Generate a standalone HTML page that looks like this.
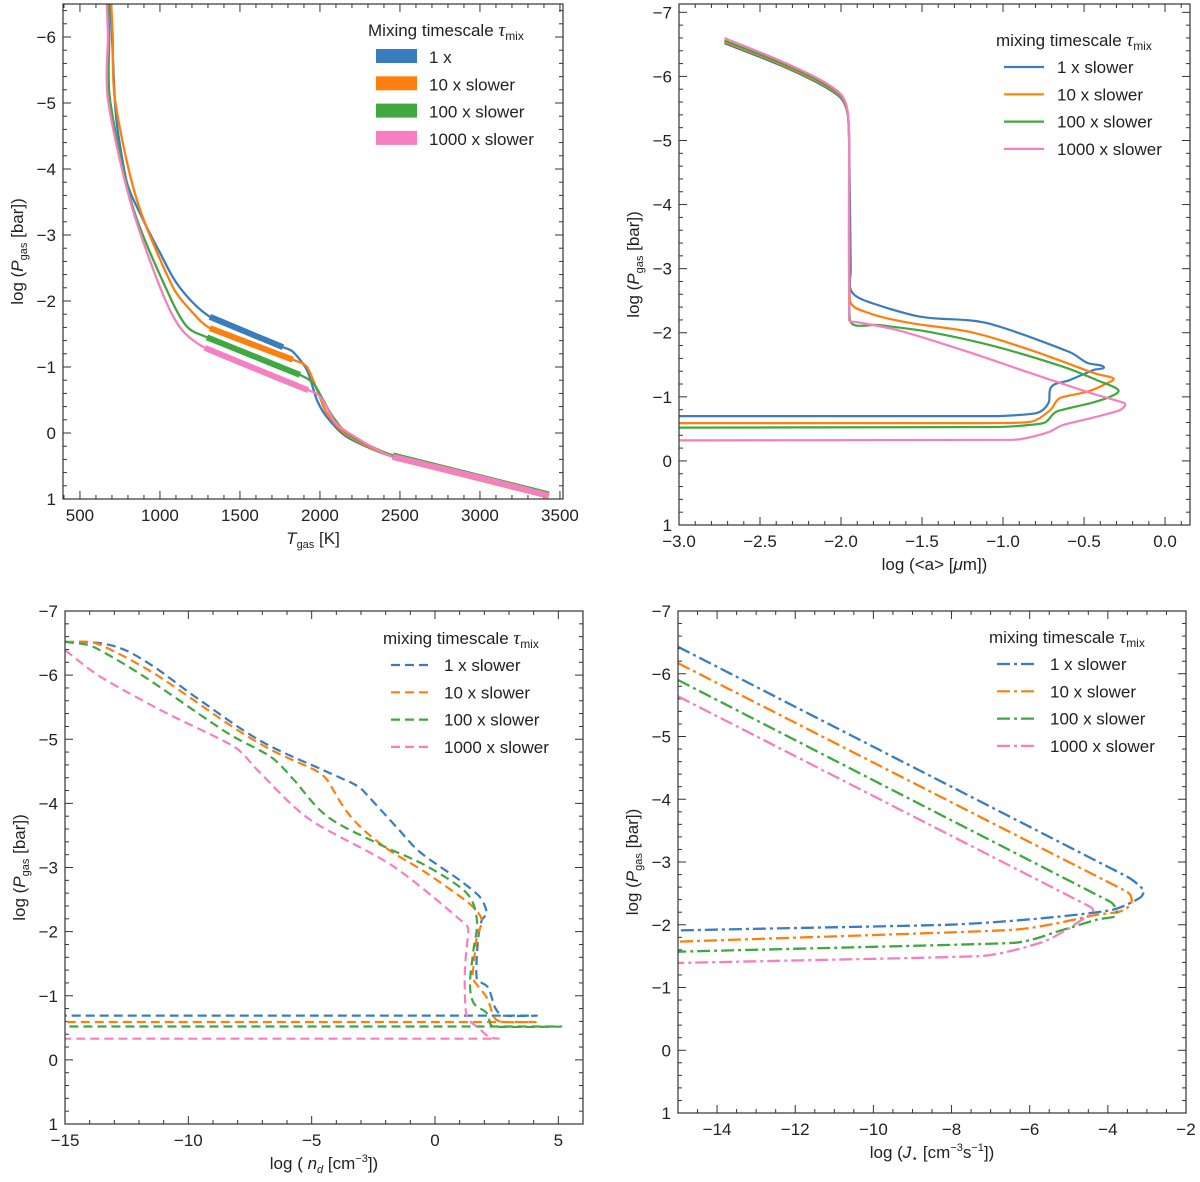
<!DOCTYPE html>
<html><head><meta charset="utf-8">
<style>
html,body{margin:0;padding:0;background:#fff;}
svg{display:block;font-family:"Liberation Sans","DejaVu Sans",sans-serif;}
</style></head>
<body>
<svg id="fig" width="1200" height="1182" viewBox="0 0 1200 1182" xmlns="http://www.w3.org/2000/svg"></svg>
<script>
const colors=['#3a7dbf','#ff7f0e','#3fa83f','#f57fc0'];
const seriesNames=['1 x slower','10 x slower','100 x slower','1000 x slower'];
const legend1Names=['1 x','10 x slower','100 x slower','1000 x slower'];

// Panel 1: T_gas vs log P
const p1T=[
 [687,700,719,738,794,875,1000,1125,1312,1550,1769,1831,1919,1981,2044,2169,2456,3000,3430],
 [695,705,719,856,1081,1206,1312,1570,1831,1919,1990,2044,2169,2456,3000,3430],
 [675,683,688,831,1063,1169,1294,1580,1875,1956,2020,2080,2180,2456,3000,3430],
 [668,675,675,812,1000,1125,1281,1600,1925,1988,2040,2100,2200,2456,3000,3430]];
const p1P=[
 [-6.5,-6,-5,-4.55,-3.79,-3.33,-2.73,-2.2,-1.76,-1.52,-1.30,-1.23,-0.95,-0.5,-0.24,0.06,0.36,0.68,0.95],
 [-6.5,-6,-5.05,-3.53,-2.21,-1.82,-1.59,-1.35,-1.11,-1.0,-0.6,-0.3,0.03,0.36,0.69,0.95],
 [-6.5,-6,-5.05,-3.42,-2.06,-1.61,-1.45,-1.17,-0.88,-0.76,-0.5,-0.25,0.02,0.34,0.67,0.93],
 [-6.5,-6,-5.05,-3.53,-2.21,-1.6,-1.29,-0.97,-0.65,-0.58,-0.4,-0.15,0.03,0.36,0.68,0.95]];
const p1ThickLo=[1312,1312,1294,1281];
const p1ThickHi=[1769,1831,1875,1925];
const p1TailLo=2456;

// Panel 2: log <a> vs log P
const p2A=[
 [-2.72,-2.38,-2.13,-2.0,-1.96,-1.95,-1.94,-1.94,-1.86,-1.51,-1.10,-0.59,-0.48,-0.38,-0.44,-0.59,-0.70,-0.72,-0.79,-1.04,-3],
 [-2.72,-2.38,-2.13,-2.0,-1.96,-1.95,-1.945,-1.82,-1.57,-1.20,-0.83,-0.44,-0.32,-0.36,-0.48,-0.65,-0.71,-0.83,-1.14,-3],
 [-2.72,-2.38,-2.13,-2.0,-1.96,-1.95,-1.945,-1.76,-1.45,-1.04,-0.63,-0.42,-0.29,-0.34,-0.46,-0.67,-0.75,-1.04,-3],
 [-2.72,-2.38,-2.13,-2.0,-1.96,-1.95,-1.95,-1.91,-1.65,-1.25,-0.83,-0.46,-0.25,-0.28,-0.42,-0.63,-0.73,-0.94,-3]];
const p2P=[
 [-6.52,-6.18,-5.88,-5.66,-5.42,-5.0,-3.0,-2.67,-2.51,-2.25,-2.15,-1.70,-1.53,-1.47,-1.42,-1.26,-1.16,-0.90,-0.75,-0.70,-0.70],
 [-6.54,-6.2,-5.9,-5.68,-5.44,-5.0,-2.51,-2.30,-2.15,-2.01,-1.73,-1.37,-1.29,-1.21,-1.08,-0.98,-0.79,-0.61,-0.59,-0.59],
 [-6.56,-6.22,-5.92,-5.7,-5.45,-5.0,-2.2,-2.12,-2.01,-1.78,-1.47,-1.26,-1.11,-1.0,-0.90,-0.77,-0.59,-0.53,-0.52],
 [-6.6,-6.25,-5.95,-5.72,-5.47,-5.0,-2.2,-2.17,-2.04,-1.73,-1.37,-1.06,-0.90,-0.79,-0.69,-0.56,-0.44,-0.33,-0.32]];

// Panel 3: log n_d vs log P
const p3N=[
 [-15,-13.58,-12.5,-11.28,-9.53,-7.1,-4.66,-3.33,-2.92,-1.56,-0.61,1.01,1.82,2.09,1.89,1.74,1.69,2.15,2.43,2.76,4.05,-15],
 [-15,-13.7,-11.4,-8.43,-6.67,-4.92,-4.38,-3.43,-2.08,-0.33,1.29,1.76,1.9,1.7,1.56,1.56,2.1,2.37,2.71,4.0,-15],
 [-15,-13.85,-11.8,-8.43,-6.67,-5.73,-4.38,-2.35,-0.33,1.29,1.7,1.56,1.42,1.56,2.1,2.37,4.96,-15],
 [-15,-13.58,-11.15,-8.17,-7.1,-5.08,-1.7,1.0,1.35,1.21,1.28,1.82,2.22,2.56,-15]];
const p3P=[
 [-6.52,-6.5,-6.38,-6.1,-5.61,-4.98,-4.54,-4.31,-4.2,-3.63,-3.24,-2.8,-2.54,-2.3,-2.17,-1.86,-1.28,-1.13,-0.82,-0.69,-0.69,-0.69],
 [-6.52,-6.49,-6.03,-5.25,-4.84,-4.53,-4.37,-3.8,-3.33,-2.91,-2.47,-2.29,-2.14,-1.93,-1.46,-1.25,-0.97,-0.68,-0.59,-0.59,-0.59],
 [-6.52,-6.44,-5.98,-5.1,-4.73,-4.37,-3.8,-3.38,-3.02,-2.6,-2.18,-1.72,-1.2,-0.89,-0.73,-0.52,-0.52,-0.52],
 [-6.39,-5.98,-5.46,-4.89,-4.48,-3.75,-3.02,-2.19,-2.04,-1.37,-0.69,-0.48,-0.35,-0.33,-0.33]];

// Panel 4: log J* vs log P
const p4J=[
 [-15,-3.52,-3.1,-3.18,-3.87,-5.57,-8.13,-15],
 [-15,-3.52,-3.4,-3.7,-4.29,-6.43,-15],
 [-15,-3.95,-3.78,-3.82,-4.29,-5.15,-6.43,-15],
 [-15,-4.46,-4.38,-4.55,-5.06,-5.74,-7.28,-15]];
const p4P=[
 [-6.43,-2.77,-2.56,-2.43,-2.24,-2.11,-2.0,-1.91],
 [-6.17,-2.53,-2.35,-2.21,-2.16,-1.92,-1.73],
 [-5.9,-2.37,-2.24,-2.13,-2.08,-1.92,-1.71,-1.57],
 [-5.64,-2.29,-2.21,-2.13,-1.92,-1.71,-1.5,-1.39]];

const ticks1X=[500,1000,1500,2000,2500,3000,3500];
const ticks1Y=[-6,-5,-4,-3,-2,-1,0,1];
const ticks2X=[-3.0,-2.5,-2.0,-1.5,-1.0,-0.5,0.0];
const ticksPY=[-7,-6,-5,-4,-3,-2,-1,0,1];
const ticks3X=[-15,-10,-5,0,5];
const ticks4X=[-14,-12,-10,-8,-6,-4,-2];

const NS='http://www.w3.org/2000/svg';
const svg=document.getElementById('fig');
function mk(tag,attrs,parent){const e=document.createElementNS(NS,tag);for(const k in attrs)e.setAttribute(k,attrs[k]);(parent||svg).appendChild(e);return e;}
function fmt(v,dec){let s=v.toFixed(dec);if(v<0)s='\u2212'+s.slice(1);return s;}

function makeAxes(cfg){
  const g=mk('g',{});
  
  
  const sx=v=>cfg.L+(v-cfg.x0)/(cfg.x1-cfg.x0)*(cfg.R-cfg.L);
  const sy=v=>cfg.T+(v-cfg.y0)/(cfg.y1-cfg.y0)*(cfg.B-cfg.T);
  const tg=mk('g',{stroke:'#333','stroke-width':1},g);
  for(let v=Math.ceil(cfg.x0/cfg.xm-1e-9)*cfg.xm;v<=cfg.x1+1e-9;v+=cfg.xm){
    const maj=Math.abs(v/cfg.xM-Math.round(v/cfg.xM))<1e-6;const len=maj?8:4;const x=sx(v);
    let t=mk('line',{x1:x,x2:x,y1:cfg.B,y2:cfg.B-len},tg);
    
    
    t=mk('line',{x1:x,x2:x,y1:cfg.T,y2:cfg.T+len},tg);
    
    
  }
  for(let v=Math.ceil(cfg.y0/cfg.ym-1e-9)*cfg.ym;v<=cfg.y1+1e-9;v+=cfg.ym){
    const maj=Math.abs(v-Math.round(v))<1e-6;const len=maj?8:4;const y=sy(v);
    let t=mk('line',{x1:cfg.L,x2:cfg.L+len,y1:y,y2:y},tg);
    
    
    t=mk('line',{x1:cfg.R,x2:cfg.R-len,y1:y,y2:y},tg);
    
    
  }
  cfg.xt.forEach(v=>{
    const t=mk('text',{x:sx(v),y:cfg.B+22,'text-anchor':'middle','font-size':17,fill:'#222'},g);
    t.textContent=cfg.xdec===0&&v>=0?String(v):fmt(v,cfg.xdec);
    
    
  });
  cfg.yt.forEach(v=>{
    if(v<cfg.y0-1e-9)return;
    const t=mk('text',{x:cfg.L-7,y:sy(v)+6,'text-anchor':'end','font-size':17,fill:'#222'},g);
    t.textContent=fmt(v,0);
    
    
  });
  const yl=mk('text',{x:0,y:0,transform:`translate(${cfg.L-40},${(cfg.T+cfg.B)/2}) rotate(-90)`,'text-anchor':'middle','font-size':17,fill:'#222'},g);
  yl.innerHTML='log (<tspan font-style="italic">P</tspan><tspan font-size="11" dy="4">gas</tspan><tspan dy="-4"> [bar])</tspan>';
  
  
  const xl=mk('text',{x:(cfg.L+cfg.R)/2,y:cfg.B+cfg.xlOff,'text-anchor':'middle','font-size':17,fill:'#222'},g);
  xl.innerHTML=cfg.xlabel;
  
  
  const clip='clip-'+cfg.name;
  const cp=mk('clipPath',{id:clip},g);
  mk('rect',{x:cfg.L,y:cfg.T,width:cfg.R-cfg.L,height:cfg.B-cfg.T},cp);
  const plot=mk('g',{'clip-path':`url(#${clip})`},g);
  
  
  return {g,plot,sx,sy,cfg};
}
function frame(ax){
  const c=ax.cfg;
  const f=mk('rect',{x:c.L,y:c.T,width:c.R-c.L,height:c.B-c.T,fill:'none',stroke:'#333','stroke-width':1.2},ax.g);
  
  
}
// smooth path with length-limited tangents (no overshoot at reversals)
function pathD(ax,xs,ys){
  const p=xs.map((x,i)=>[ax.sx(x),ax.sy(ys[i])]);
  const n=p.length;
  const dist=(a,b)=>Math.hypot(b[0]-a[0],b[1]-a[1]);
  const dir=p.map((q,i)=>{
    const a=p[Math.max(0,i-1)],b=p[Math.min(n-1,i+1)];
    const dx=b[0]-a[0],dy=b[1]-a[1],l=Math.hypot(dx,dy)||1;
    return [dx/l,dy/l];
  });
  let d='M'+p[0][0].toFixed(1)+','+p[0][1].toFixed(1);
  for(let i=0;i<n-1;i++){
    const a=p[i],b=p[i+1];
    const lab=dist(a,b);
    const lprev=i>0?dist(p[i-1],a):lab;
    const lnext=i+2<n?dist(b,p[i+2]):lab;
    const m1=Math.min(lab,lprev)*0.35,m2=Math.min(lab,lnext)*0.35;
    const c1=[a[0]+dir[i][0]*m1,a[1]+dir[i][1]*m1];
    const c2=[b[0]-dir[i+1][0]*m2,b[1]-dir[i+1][1]*m2];
    d+='C'+c1[0].toFixed(1)+','+c1[1].toFixed(1)+' '+c2[0].toFixed(1)+','+c2[1].toFixed(1)+' '+b[0].toFixed(1)+','+b[1].toFixed(1);
  }
  return d;
}

function legend(ax,x,yTitle,names,style,dash){
  const lg=mk('g',{},ax.g);
  
  
  const t=mk('text',{x:x,y:yTitle,'font-size':17,fill:'#222'},lg);
  t.innerHTML=(style==='patch'?'Mixing':'mixing')+' timescale <tspan font-style="italic" font-family="Liberation Serif, serif" font-size="19">τ</tspan><tspan font-size="12" dy="4">mix</tspan>';
  
  
  names.forEach((n,i)=>{
    const y=yTitle+26+i*27.3;
    const hx=x+8;
    let h;
    if(style==='patch'){h=mk('rect',{x:hx,y:y-13,width:41,height:14,fill:colors[i]},lg);}
    else{h=mk('line',{x1:hx,x2:hx+40,y1:y-5,y2:y-5,stroke:colors[i],'stroke-width':2.2,'stroke-dasharray':dash||'none'},lg);}
    
    
    const lt=mk('text',{x:hx+53,y:y+1,'font-size':17,fill:'#222'},lg);
    lt.textContent=n;
    
    
  });
}

// ---- Panel 1
const a1=makeAxes({name:'panel-temperature',L:63,R:563,T:4,B:499,x0:394,x1:3519,y0:-6.5,y1:1,xm:100,xM:500,ym:0.2,xt:ticks1X,yt:ticks1Y,xdec:0,xlOff:45,
 xlabel:'<tspan font-style="italic">T</tspan><tspan font-size="11" dy="4">gas</tspan><tspan dy="-4"> [K]</tspan>'});
p1T.forEach((xs,i)=>{
  const p=mk('path',{d:pathD(a1,xs,p1P[i]),fill:'none',stroke:colors[i],'stroke-width':2.3,'stroke-linejoin':'round'},a1.plot);
  
  
});
p1T.forEach((xs,i)=>{
  const ix=[],iy=[];
  xs.forEach((x,k)=>{if(x>=p1ThickLo[i]&&x<=p1ThickHi[i]){ix.push(x);iy.push(p1P[i][k]);}});
  const p=mk('path',{d:pathD(a1,ix,iy),fill:'none',stroke:colors[i],'stroke-width':6,'stroke-linejoin':'round'},a1.plot);
  
  
});
p1T.forEach((xs,i)=>{
  const ix=[],iy=[];
  xs.forEach((x,k)=>{if(x>=p1TailLo){ix.push(x);iy.push(p1P[i][k]);}});
  const p=mk('path',{d:pathD(a1,ix,iy),fill:'none',stroke:colors[i],'stroke-width':6},a1.plot);
  
  
});
frame(a1);
legend(a1,368,36,legend1Names,'patch');

// ---- Panel 2
const a2=makeAxes({name:'panel-grain-size',L:679,R:1190,T:4,B:525,x0:-3,x1:0.154,y0:-7.13,y1:1,xm:0.1,xM:0.5,ym:0.2,xt:ticks2X,yt:ticksPY,xdec:1,xlOff:45,
 xlabel:'log (&lt;a&gt; [<tspan font-style="italic">μ</tspan>m])'});
p2A.forEach((xs,i)=>{
  const p=mk('path',{d:pathD(a2,xs,p2P[i]),fill:'none',stroke:colors[i],'stroke-width':2.2,'stroke-linejoin':'round'},a2.plot);
  
  
});
frame(a2);
legend(a2,996,46,seriesNames,'line');

// ---- Panel 3
const a3=makeAxes({name:'panel-number-density',L:65,R:583,T:611,B:1124,x0:-15,x1:6,y0:-7,y1:1,xm:1,xM:5,ym:0.2,xt:ticks3X,yt:ticksPY,xdec:0,xlOff:45,
 xlabel:'log ( <tspan font-style="italic">n</tspan><tspan font-size="11" dy="4" font-style="italic">d</tspan><tspan dy="-4"> [cm</tspan><tspan font-size="11" dy="-7">−3</tspan><tspan dy="7">])</tspan>'});
p3N.forEach((xs,i)=>{
  const p=mk('path',{d:pathD(a3,xs,p3P[i]),fill:'none',stroke:colors[i],'stroke-width':2.2,'stroke-dasharray':'9,5','stroke-linejoin':'round'},a3.plot);
  
  
});
frame(a3);
legend(a3,383,644,seriesNames,'line','9,5');

// ---- Panel 4
const a4=makeAxes({name:'panel-nucleation-rate',L:678,R:1186,T:611,B:1113,x0:-15,x1:-2,y0:-7,y1:1,xm:0.5,xM:2,ym:0.2,xt:ticks4X,yt:ticksPY,xdec:0,xlOff:45,
 xlabel:'log (<tspan font-style="italic">J</tspan><tspan font-size="11" dy="4">⋆</tspan><tspan dy="-4"> [cm</tspan><tspan font-size="11" dy="-7">−3</tspan><tspan dy="7">s</tspan><tspan font-size="11" dy="-7">−1</tspan><tspan dy="7">])</tspan>'});
p4J.forEach((xs,i)=>{
  const p=mk('path',{d:pathD(a4,xs,p4P[i]),fill:'none',stroke:colors[i],'stroke-width':2.3,'stroke-dasharray':'13,4,3,4','stroke-linejoin':'round'},a4.plot);
  
  
});
frame(a4);
legend(a4,989,643,seriesNames,'line','13,4,3,4');
</script>
</body></html>
